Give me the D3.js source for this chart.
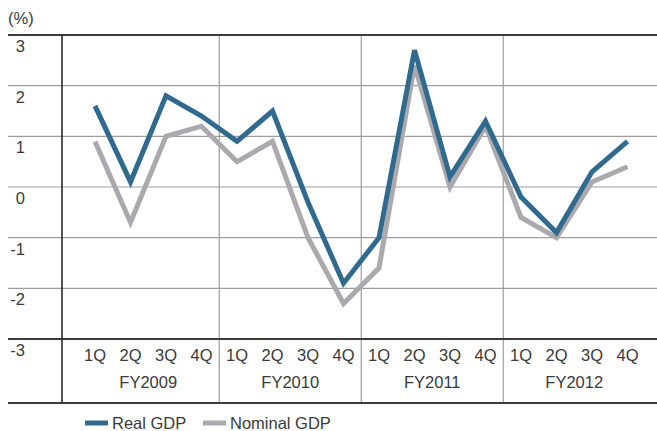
<!DOCTYPE html>
<html>
<head>
<meta charset="utf-8">
<script src="https://cdn.jsdelivr.net/npm/d3@7/dist/d3.min.js"></script>
<style>
  html, body { margin: 0; padding: 0; background: #fff; }
  svg { display: block; font-family: "Liberation Sans", Arial, sans-serif; }
</style>
</head>
<body>
<svg id="chart" width="657" height="431"></svg>
<script>
// Quarterly GDP growth (%), FY2009–FY2012
const years = ["FY2009", "FY2010", "FY2011", "FY2012"];
const quarters = ["1Q", "2Q", "3Q", "4Q"];
const realGDP = [1.6, 0.1, 1.8, 1.4, 0.9, 1.5, -0.3, -1.9, -1.0, 2.7, 0.2, 1.3, -0.2, -0.9, 0.3, 0.9];
const nominalGDP = [0.9, -0.7, 1.0, 1.2, 0.5, 0.9, -1.0, -2.3, -1.6, 2.4, 0.0, 1.2, -0.6, -1.0, 0.1, 0.4];
const yTicks = [3, 2, 1, 0, -1, -2, -3];
const seriesNames = ["Real GDP", "Nominal GDP"];
const seriesColors = ["#306a8e", "#aaaaae"];

const svg = d3.select("#chart");
const W = 657;
const left = 8, axisX = 62;
const fontSize = 16.5;
const textColor = "#3a3a3a";

const keys = [];
years.forEach(y => quarters.forEach(q => keys.push(y + "-" + q)));

const x = d3.scaleBand().domain(keys).range([77.25, 645.25]).padding(0);
const y = d3.scaleLinear().domain([-3, 3]).range([339, 35]);
const tableBottom = 403;

const g = svg.append("g");

// horizontal gridlines
g.selectAll("line.hgrid").data(yTicks.filter(t => t !== 3 && t !== -3)).join("line")
  .attr("class", "hgrid")
  .attr("x1", left).attr("x2", W)
  .attr("y1", d => y(d)).attr("y2", d => y(d))
  .attr("stroke", "#9d9d9d").attr("stroke-width", 1.2);

// year separators
g.selectAll("line.vgrid").data(years.slice(1)).join("line")
  .attr("class", "vgrid")
  .attr("x1", d => x(d + "-1Q")).attr("x2", d => x(d + "-1Q"))
  .attr("y1", y(3)).attr("y2", tableBottom)
  .attr("stroke", "#9d9d9d").attr("stroke-width", 1.2);

// frame lines
[y(3), y(-3), tableBottom].forEach(yy => {
  g.append("line").attr("x1", left).attr("x2", W).attr("y1", yy).attr("y2", yy)
    .attr("stroke", "#3c3c3c").attr("stroke-width", 2);
});
g.append("line").attr("x1", axisX).attr("x2", axisX).attr("y1", y(3)).attr("y2", tableBottom)
  .attr("stroke", "#2a2a2a").attr("stroke-width", 1.6);

// y tick labels
g.selectAll("text.ytick").data(yTicks).join("text")
  .attr("class", "ytick")
  .attr("x", 25).attr("y", d => y(d) + 17)
  .attr("text-anchor", "end")
  .attr("font-size", fontSize).attr("fill", textColor)
  .text(d => d);

g.append("text").attr("x", 8).attr("y", 24).attr("font-size", fontSize).attr("fill", textColor).text("(%)");

// quarter labels and fiscal-year labels
g.selectAll("text.q").data(keys).join("text")
  .attr("class", "q")
  .attr("x", d => x(d) + x.bandwidth() / 2).attr("y", 361)
  .attr("text-anchor", "middle").attr("font-size", fontSize).attr("fill", textColor)
  .text(d => d.split("-")[1]);

g.selectAll("text.fy").data(years).join("text")
  .attr("class", "fy")
  .attr("x", d => (x(d + "-1Q") + x(d + "-4Q") + x.bandwidth()) / 2).attr("y", 388)
  .attr("text-anchor", "middle").attr("font-size", fontSize).attr("fill", textColor)
  .text(d => d);

// series lines
const line = d3.line()
  .x((d, i) => x(keys[i]) + x.bandwidth() / 2)
  .y(d => y(d));

[nominalGDP, realGDP].forEach((vals, k) => {
  const color = k === 0 ? seriesColors[1] : seriesColors[0];
  g.append("path").attr("d", line(vals))
    .attr("fill", "none").attr("stroke", color)
    .attr("stroke-width", 5).attr("stroke-linejoin", "miter").attr("stroke-linecap", "butt");
});

// legend
const legendItems = [
  { name: seriesNames[0], color: seriesColors[0], x: 85 },
  { name: seriesNames[1], color: seriesColors[1], x: 203 }
];
const lg = svg.append("g");
legendItems.forEach(it => {
  lg.append("line").attr("x1", it.x).attr("x2", it.x + 23).attr("y1", 423).attr("y2", 423)
    .attr("stroke", it.color).attr("stroke-width", 5);
  lg.append("text").attr("x", it.x + 27).attr("y", 428.5)
    .attr("font-size", fontSize).attr("fill", textColor).text(it.name);
});
</script>
</body>
</html>
